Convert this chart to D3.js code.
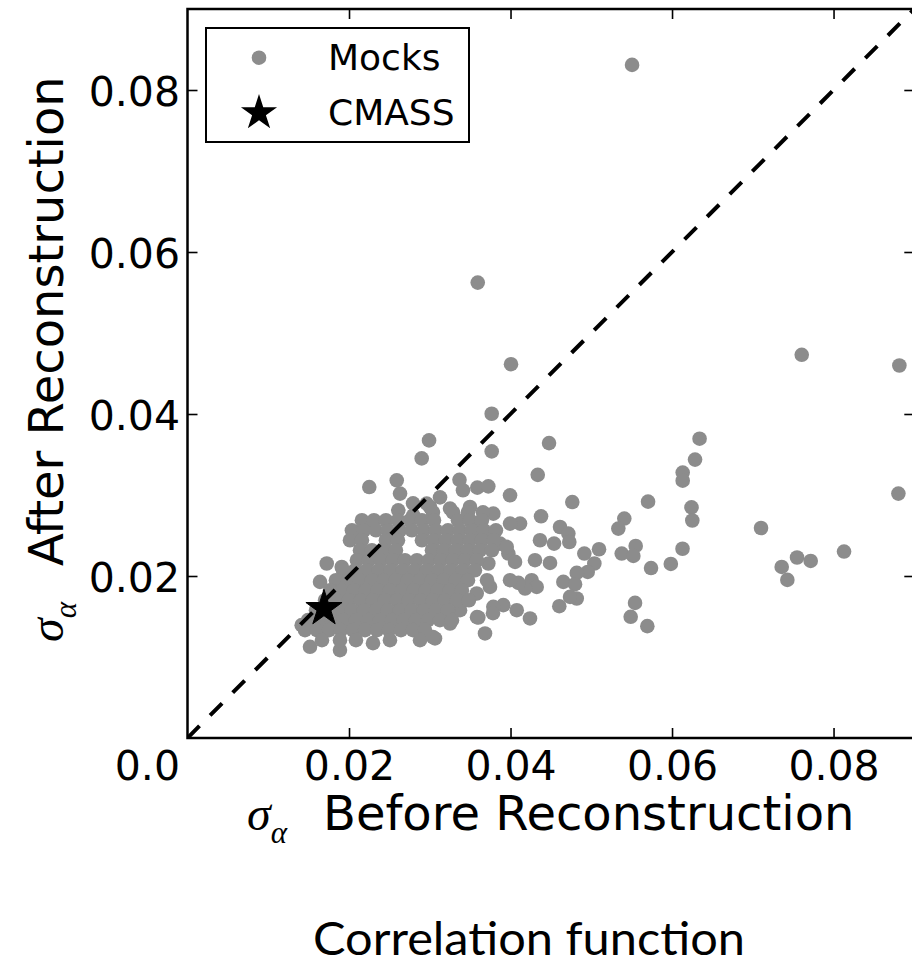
<!DOCTYPE html>
<html><head><meta charset="utf-8">
<script src="https://cdn.jsdelivr.net/npm/d3@7"></script>
<style>body{margin:0;background:#fff}svg{display:block}</style>
</head><body>
<svg id="chart" width="912" height="977"></svg>
<script>
const xTicks=[0.02,0.04,0.06,0.08];
const yTicks=[0.02,0.04,0.06,0.08];
const xDomain=[0,0.09];
const yDomain=[0,0.09];
const legendLabels=["Mocks","CMASS"];
const xLabel="Before Reconstruction";
const yLabel="After Reconstruction";
const title="Correlation function";
const cmass=[[0.0169,0.0160]];
const diagonal=[[0,0],[0.09,0.09]];
// outlying / fringe mocks
const mocksOuter=[
[0.05505,0.0831],[0.03594,0.05622],[0.04006,0.04615],[0.03767,0.04003],[0.02991,0.03674],[0.02900,0.03452],[0.03767,0.03538],[0.04477,0.03641],[0.04337,0.03249],[0.03368,0.03187],
[0.07606,0.04731],[0.08815,0.04599],[0.08803,0.03017],[0.06341,0.03695],[0.06285,0.03437],[0.06132,0.03277],[0.06132,0.03177],[0.06241,0.02848],[0.06251,0.02685],[0.06130,0.02336],
[0.05985,0.02149],[0.05740,0.02098],[0.05703,0.02918],[0.07102,0.02593],[0.07358,0.02112],[0.07548,0.02228],[0.07717,0.02186],[0.07428,0.01952],[0.08130,0.02302],
[0.03589,0.03091],[0.03725,0.03107],[0.03994,0.02996],[0.04765,0.02913],[0.05409,0.02709],[0.05335,0.02585],[0.05550,0.02371],[0.05377,0.02277],[0.05521,0.02248],[0.05096,0.02330],
[0.04914,0.02277],[0.05038,0.02154],[0.04956,0.02050],[0.04820,0.02038],[0.05542,0.01668],[0.05488,0.01496],[0.05694,0.01381],[0.04378,0.02737],[0.04613,0.02605],[0.04716,0.02524],
[0.04728,0.02420],[0.04539,0.02400],[0.04489,0.02161],[0.04365,0.02441],[0.04303,0.02195],[0.04118,0.02647],[0.03994,0.02647],[0.04262,0.01948],[0.04324,0.01865],[0.04654,0.01927],
[0.04799,0.01899],[0.04820,0.01722],[0.04604,0.01627],[0.04737,0.01742],[0.04180,0.01845],[0.04097,0.01915],[0.03994,0.01948],[0.04241,0.01476],[0.04077,0.01578],[0.03911,0.01640],
[0.03787,0.01619],[0.03601,0.01488],[0.03684,0.01291],[0.03065,0.01229],[0.03746,0.01865],[0.03725,0.02154],[0.03622,0.02503],[0.03601,0.02647],[0.03787,0.02770],[0.03870,0.02400],
[0.03973,0.02277],[0.04056,0.02174],[0.03953,0.02359],[0.03498,0.02852],[0.03251,0.02832],[0.03003,0.02852],[0.02632,0.03017],[0.02796,0.02749],[0.03581,0.01784],
[0.03375,0.01578],[0.03251,0.01414],[0.02879,0.01372],[0.02251,0.03098],[0.02591,0.03181],[0.02610,0.02811],[0.02962,0.02894],[0.01724,0.02154],[0.01910,0.02112],[0.01641,0.01927],
[0.01414,0.01393],[0.01517,0.01126],[0.02260,0.02626],[0.02115,0.02544],[0.03411,0.03058],[0.03127,0.02971],[0.02793,0.02897],[0.03783,0.02478],[0.03709,0.01948],[0.03783,0.01541],
[0.03585,0.01492],[0.03040,0.01245],[0.02297,0.01171],[0.01888,0.01085]
];
// dense core of the mocks cloud
const mocksCore=[
[0.03039,0.02786],[0.03287,0.02786],[0.03473,0.02786],[0.03659,0.02786],
[0.02160,0.02688],[0.02309,0.02688],[0.02457,0.02688],[0.02606,0.02688],[0.02755,0.02688],[0.02903,0.02688],[0.03052,0.02688],[0.03349,0.02688],[0.03497,0.02688],[0.03646,0.02688],
[0.02036,0.02564],[0.02185,0.02564],[0.02334,0.02564],[0.02482,0.02564],[0.02631,0.02564],[0.02779,0.02564],[0.02928,0.02564],[0.03076,0.02564],[0.03225,0.02564],[0.03374,0.02564],[0.03522,0.02564],[0.03671,0.02564],[0.03819,0.02564],
[0.02012,0.02441],[0.02160,0.02441],[0.02457,0.02441],[0.02606,0.02441],[0.02903,0.02441],[0.03052,0.02441],[0.03200,0.02441],[0.03349,0.02441],[0.03497,0.02441],[0.03646,0.02441],[0.03794,0.02441],
[0.02136,0.02318],[0.02284,0.02318],[0.02433,0.02318],[0.02581,0.02318],[0.03027,0.02318],[0.03175,0.02318],[0.03324,0.02318],[0.03473,0.02318],[0.03621,0.02318],[0.03770,0.02318],
[0.02098,0.02195],[0.02247,0.02195],[0.02396,0.02195],[0.02544,0.02195],[0.02693,0.02195],[0.02841,0.02195],[0.02990,0.02195],[0.03138,0.02195],[0.03287,0.02195],[0.03435,0.02195],[0.03584,0.02195],
[0.01925,0.02071],[0.02074,0.02071],[0.02222,0.02071],[0.02371,0.02071],[0.02519,0.02071],[0.02668,0.02071],[0.02817,0.02071],[0.02965,0.02071],[0.03114,0.02071],[0.03262,0.02071],[0.03411,0.02071],[0.03559,0.02071],
[0.01838,0.01948],[0.01987,0.01948],[0.02136,0.01948],[0.02284,0.01948],[0.02433,0.01948],[0.02581,0.01948],[0.02730,0.01948],[0.02879,0.01948],[0.03027,0.01948],[0.03175,0.01948],[0.03324,0.01948],[0.03473,0.01948],
[0.01765,0.01825],[0.01913,0.01825],[0.02061,0.01825],[0.02210,0.01825],[0.02358,0.01825],[0.02507,0.01825],[0.02656,0.01825],[0.02804,0.01825],[0.02953,0.01825],[0.03101,0.01825],[0.03250,0.01825],[0.03398,0.01825],
[0.01703,0.01701],[0.01851,0.01701],[0.01999,0.01701],[0.02148,0.01701],[0.02296,0.01701],[0.02445,0.01701],[0.02594,0.01701],[0.02742,0.01701],[0.02891,0.01701],[0.03039,0.01701],[0.03188,0.01701],[0.03336,0.01701],[0.03485,0.01701],
[0.01591,0.01578],[0.01739,0.01578],[0.01888,0.01578],[0.02036,0.01578],[0.02185,0.01578],[0.02334,0.01578],[0.02482,0.01578],[0.02631,0.01578],[0.02779,0.01578],[0.02928,0.01578],[0.03076,0.01578],[0.03225,0.01578],
[0.01492,0.01455],[0.01641,0.01455],[0.01789,0.01455],[0.01937,0.01455],[0.02086,0.01455],[0.02235,0.01455],[0.02383,0.01455],[0.02532,0.01455],[0.02680,0.01455],[0.02829,0.01455],[0.02977,0.01455],[0.03126,0.01455],[0.03275,0.01455],
[0.01455,0.01332],[0.01603,0.01332],[0.01752,0.01332],[0.01900,0.01332],[0.02049,0.01332],[0.02198,0.01332],[0.02346,0.01332],[0.02495,0.01332],[0.02643,0.01332],[0.02792,0.01332],[0.02941,0.01332],
[0.01665,0.01208],[0.01888,0.01208],[0.02086,0.01208],[0.02507,0.01208],[0.02879,0.01208]
];
const mocks=mocksOuter.concat(mocksCore);

const svg=d3.select("#chart");
const L=187.5,R=914.3,T=9,B=738;
const x=d3.scaleLinear().domain(xDomain).range([L,R]);
const y=d3.scaleLinear().domain(yDomain).range([B,T]);
const GREY="#8c8c8c";
const FONT="DejaVu Sans";

svg.append("defs").append("clipPath").attr("id","clip").append("rect")
  .attr("x",L).attr("y",T).attr("width",R-L).attr("height",B-T);
const plot=svg.append("g").attr("clip-path","url(#clip)");
plot.selectAll("circle.m").data(mocks).join("circle").attr("class","m")
  .attr("cx",d=>x(d[0])).attr("cy",d=>y(d[1])).attr("r",7.3).attr("fill",GREY);
plot.append("path").attr("d",d3.line().x(d=>x(d[0])).y(d=>y(d[1]))(diagonal))
  .attr("fill","none").attr("stroke","#000").attr("stroke-width",4).attr("stroke-dasharray","17,15");
const starPath=d3.symbol().type(d3.symbolStar).size(405)();
plot.selectAll("path.star").data(cmass).join("path").attr("class","star")
  .attr("d",starPath).attr("transform",d=>`translate(${x(d[0])},${y(d[1])})`)
  .attr("fill","#000").attr("stroke","#000").attr("stroke-width",1);

function styleAxis(g){
  g.select(".domain").remove();
  g.attr("font-family",FONT).attr("font-size",41);
  g.selectAll("line").attr("stroke","#000").attr("stroke-width",1.6);
  g.selectAll("text").attr("fill","#000");
}
const gx=svg.append("g").attr("transform",`translate(0,${B})`)
  .call(d3.axisBottom(x).tickValues(xTicks).tickSize(-10).tickFormat(d3.format(".2f")));
styleAxis(gx); gx.selectAll("text").attr("y",42).attr("dy",null);
const gy=svg.append("g").attr("transform",`translate(${L},0)`)
  .call(d3.axisLeft(y).tickValues(yTicks).tickSize(-10).tickFormat(d3.format(".2f")));
styleAxis(gy); gy.selectAll("text").attr("x",-7.5).attr("dy","0.37em");
const gt=svg.append("g").attr("transform",`translate(0,${T})`)
  .call(d3.axisTop(x).tickValues(xTicks).tickSize(-10).tickFormat(()=>""));
styleAxis(gt);
const gr=svg.append("g").attr("transform",`translate(${R},0)`)
  .call(d3.axisRight(y).tickValues(yTicks).tickSize(-10).tickFormat(()=>""));
styleAxis(gr);

svg.append("rect").attr("x",L).attr("y",T).attr("width",R-L).attr("height",B-T)
  .attr("fill","none").attr("stroke","#000").attr("stroke-width",2.5);

svg.append("text").attr("x",180).attr("y",780).attr("text-anchor","end")
  .attr("font-family",FONT).attr("font-size",41).attr("fill","#000").text("0.0");

// legend
const lg=svg.append("g");
lg.append("rect").attr("x",206).attr("y",28).attr("width",263).attr("height",114)
  .attr("fill","#fff").attr("stroke","#000").attr("stroke-width",2);
lg.append("circle").attr("cx",259).attr("cy",57.7).attr("r",7.3).attr("fill",GREY);
lg.append("path").attr("d",starPath).attr("transform","translate(259,113)").attr("fill","#000");
lg.selectAll("text").data(legendLabels).join("text")
  .attr("x",328).attr("y",(d,i)=>70+i*55).attr("font-family",FONT).attr("font-size",36)
  .attr("fill","#000").text(d=>d);

// x label
const xl=svg.append("text").attr("y",830).attr("fill","#000");
xl.append("tspan").attr("x",247).attr("font-family","Liberation Serif").attr("font-style","italic").attr("font-size",48).text("σ");
xl.append("tspan").attr("dy",13).attr("font-family","Liberation Serif").attr("font-style","italic").attr("font-size",31).text("α");
xl.append("tspan").attr("x",323).attr("dy",-13).attr("font-family",FONT).attr("font-size",48).text(xLabel);

// y label
const yl=svg.append("g").attr("transform","translate(63,0) rotate(-90)").append("text").attr("fill","#000");
yl.append("tspan").attr("x",-642).attr("font-family","Liberation Serif").attr("font-style","italic").attr("font-size",48).text("σ");
yl.append("tspan").attr("dy",13).attr("font-family","Liberation Serif").attr("font-style","italic").attr("font-size",31).text("α");
yl.append("tspan").attr("x",-566).attr("dy",-13).attr("font-family",FONT).attr("font-size",48).text(yLabel);

// caption
svg.append("text").attr("x",529).attr("y",955).attr("text-anchor","middle")
  .attr("font-family","Lato").attr("font-size",46).attr("fill","#000")
  .attr("textLength",432).attr("lengthAdjust","spacingAndGlyphs").text(title);
</script>
</body></html>
